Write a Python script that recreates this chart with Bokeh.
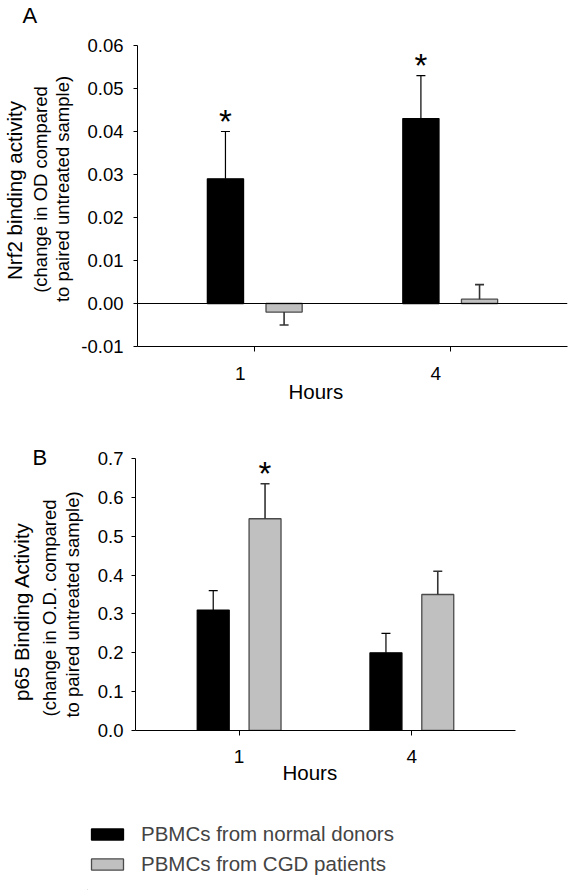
from bokeh.plotting import figure
from bokeh.models import (Range1d, FixedTicker, NumeralTickFormatter, Span,
                          Title, Legend, LegendItem, ColumnDataSource)
from bokeh.layouts import column, row
from bokeh.embed import file_html
from bokeh.resources import INLINE
from bokeh.core.properties import value
import numpy as np

# ---------------- data ----------------
hours = ["1", "4"]
series_names = ["PBMCs from normal donors", "PBMCs from CGD patients"]

# Panel A: Nrf2 binding activity
nrf2_normal = [0.029, 0.043]
nrf2_normal_err = [0.011, 0.010]
nrf2_normal_sig = ["*", "*"]
nrf2_cgd = [-0.002, 0.001]
nrf2_cgd_err = [0.003, 0.0034]
nrf2_cgd_sig = ["", ""]
nrf2_ticks = [-0.01, 0.00, 0.01, 0.02, 0.03, 0.04, 0.05, 0.06]
nrf2_ylabels = ["Nrf2 binding activity", "(change in OD compared",
                "to paired untreated sample)"]

# Panel B: p65 binding activity
p65_normal = [0.31, 0.20]
p65_normal_err = [0.05, 0.05]
p65_normal_sig = ["", ""]
p65_cgd = [0.545, 0.35]
p65_cgd_err = [0.09, 0.06]
p65_cgd_sig = ["*", ""]
p65_ticks = [0.0, 0.1, 0.2, 0.3, 0.4, 0.5, 0.6, 0.7]
p65_ylabels = ["p65 Binding Activity", "(change in O.D. compared",
               "to paired untreated sample)"]

FONT = "Liberation Sans"
GRAY_FILL = "#c0c0c0"
GRAY_LINE = "#4a4a4a"
XR = (-0.6, 1.6)
W = 573


def add_series(p, vals, errs, sig, offset, fill, line, err_color, err_width):
    pos = np.arange(len(vals)) + offset
    vals = np.asarray(vals, dtype=float)
    errs = np.asarray(errs, dtype=float)
    tips = vals + np.sign(vals) * errs
    src = ColumnDataSource(dict(x=pos, top=vals, tip=tips))
    r = p.vbar(x="x", top="top", bottom=0, width=0.185, source=src,
               fill_color=fill, line_color=line, line_width=1.3)
    p.segment(x0="x", y0="top", x1="x", y1="tip", source=src,
              line_color=err_color, line_width=err_width)
    p.dash(x="x", y="tip", size=9, source=src, line_color=err_color,
           line_width=err_width)
    keep = [i for i, s in enumerate(sig) if s]
    if keep:
        ssrc = ColumnDataSource(dict(x=pos[keep], tip=tips[keep],
                                     sig=[sig[i] for i in keep]))
        p.text(x="x", y="tip", text="sig", source=ssrc, text_font=value(FONT),
               text_font_size="33px", text_align="center",
               text_baseline="alphabetic", y_offset=-10, text_color="black")
    return r


def label_fig(width, height, letter, letter_xy, texts, centers):
    """Narrow strip left of a panel holding the panel letter and the
    rotated y-axis title lines (coordinates are pixels from top-left)."""
    f = figure(width=width, height=height, x_range=Range1d(0, width),
               y_range=Range1d(height, 0), output_backend="svg",
               toolbar_location=None, x_axis_location=None,
               y_axis_location=None, min_border=0, frame_align=False)
    f.outline_line_color = None
    f.grid.visible = False
    f.text(x=[letter_xy[0]], y=[letter_xy[1]], text=[letter],
           text_font=value(FONT), text_font_size="22px", text_align="left",
           text_baseline="middle", text_color="black")
    src = ColumnDataSource(dict(x=[c[0] for c in centers],
                                y=[c[1] for c in centers], text=texts,
                                size=["20.5px", "18.5px", "18.5px"]))
    f.text(x="x", y="y", text="text", source=src, angle=np.pi / 2,
           text_font=value(FONT), text_font_size="size", text_align="center",
           text_baseline="middle", text_color="black")
    return f


def make_panel(width, height, borders, yr, ticks, fmt, normal, normal_err,
               normal_sig, cgd, cgd_err, cgd_sig, label_shift_px,
               xlab_standoff, ylab_standoff, hours_offset, hours_standoff,
               zero_line):
    bl, br, bt, bb = borders
    p = figure(width=width, height=height, x_range=Range1d(*XR),
               y_range=Range1d(*yr), output_backend="svg",
               toolbar_location=None, min_border_left=bl,
               min_border_right=br, min_border_top=bt, min_border_bottom=bb,
               frame_align=False)
    p.outline_line_color = None
    p.grid.visible = False
    sx = (width - bl - br) / (XR[1] - XR[0])

    add_series(p, normal, normal_err, normal_sig, -0.15, "black", "black",
               "black", 1.2)
    add_series(p, cgd, cgd_err, cgd_sig, 0.15, GRAY_FILL, GRAY_LINE,
               "#333333", 1.6)
    if zero_line:
        p.add_layout(Span(location=0, dimension="width", line_color="black",
                          line_width=1))

    p.yaxis.ticker = FixedTicker(ticks=ticks)
    p.yaxis.formatter = NumeralTickFormatter(format=fmt)
    # labels sit at (possibly shifted) major ticks, tick marks are minor ticks
    cat = list(range(len(hours)))
    lab_pos = [c + label_shift_px / sx for c in cat]
    p.xaxis.ticker = FixedTicker(ticks=lab_pos, minor_ticks=cat)
    p.xaxis.major_label_overrides = {t: h for t, h in zip(lab_pos, hours)}
    for ax in (p.xaxis[0], p.yaxis[0]):
        ax.axis_line_color = "black"
        ax.axis_line_width = 1
        ax.major_tick_line_color = "black"
        ax.minor_tick_line_color = "black"
        ax.major_tick_in = 0
        ax.minor_tick_in = 0
        ax.major_label_text_font = FONT
        ax.major_label_text_color = "black"
    p.yaxis.major_tick_out = 4
    p.yaxis.minor_tick_out = 0
    p.yaxis.major_label_text_font_size = "18.5px"
    p.yaxis.major_label_standoff = ylab_standoff
    p.xaxis.major_tick_out = 0
    p.xaxis.minor_tick_out = 5
    p.xaxis.major_label_text_font_size = "19px"
    p.xaxis.major_label_standoff = xlab_standoff

    p.add_layout(Title(text="Hours", align="left", offset=hours_offset,
                       standoff=hours_standoff, text_font=FONT,
                       text_font_size="20.5px", text_font_style="normal",
                       text_color="black"), "below")
    return p


# Panel A (page rows 0-420)
labA = label_fig(76, 420, "A", (22, 15), nrf2_ylabels,
                 [(14, 190), (40, 189), (62, 188.5)])
pA = make_panel(497, 420, (61, 6, 45, 74), (-0.01, 0.06), nrf2_ticks, "0.00",
                nrf2_normal, nrf2_normal_err, nrf2_normal_sig,
                nrf2_cgd, nrf2_cgd_err, nrf2_cgd_sig,
                -14.5, 15, 10, 151, -10, True)

# Panel B (page rows 420-800)
labB = label_fig(90, 380, "B", (32, 36.5), p65_ylabels,
                 [(21, 191), (49, 187.5), (72, 184)])
pB = make_panel(483, 380, (45, 58, 38, 70), (0.0, 0.7), p65_ticks, "0.0",
                p65_normal, p65_normal_err, p65_normal_sig,
                p65_cgd, p65_cgd_err, p65_cgd_sig,
                0.0, 14, 8, 147, -14, False)

# legend strip (page rows 800-890)
pC = figure(width=W, height=90, x_range=Range1d(0, 1), y_range=Range1d(0, 1),
            output_backend="svg", toolbar_location=None,
            x_axis_location=None, y_axis_location=None,
            min_border_left=87, min_border_top=22, min_border_right=0,
            min_border_bottom=0, frame_align=False)
pC.grid.visible = False
pC.outline_line_color = None
dummy = ColumnDataSource(dict(x=[-10.0], top=[-10.0]))
lg1 = pC.vbar(x="x", top="top", width=0.1, source=dummy,
              fill_color="black", line_color="black", line_width=1.3)
lg2 = pC.vbar(x="x", top="top", width=0.1, source=dummy,
              fill_color=GRAY_FILL, line_color=GRAY_LINE, line_width=1.3)
legend = Legend(items=[LegendItem(label=series_names[0], renderers=[lg1]),
                       LegendItem(label=series_names[1], renderers=[lg2])],
                location="top_left", margin=0, padding=0, spacing=6,
                glyph_width=40, glyph_height=14, label_height=20,
                label_standoff=14, label_text_font=FONT,
                label_text_font_size="20.5px", border_line_color=None,
                background_fill_alpha=0)
pC.add_layout(legend, "center")

layout = column(row(labA, pA, spacing=0), row(labB, pB, spacing=0), pC,
                spacing=0)
open("out.html", "w").write(file_html(layout, INLINE))
